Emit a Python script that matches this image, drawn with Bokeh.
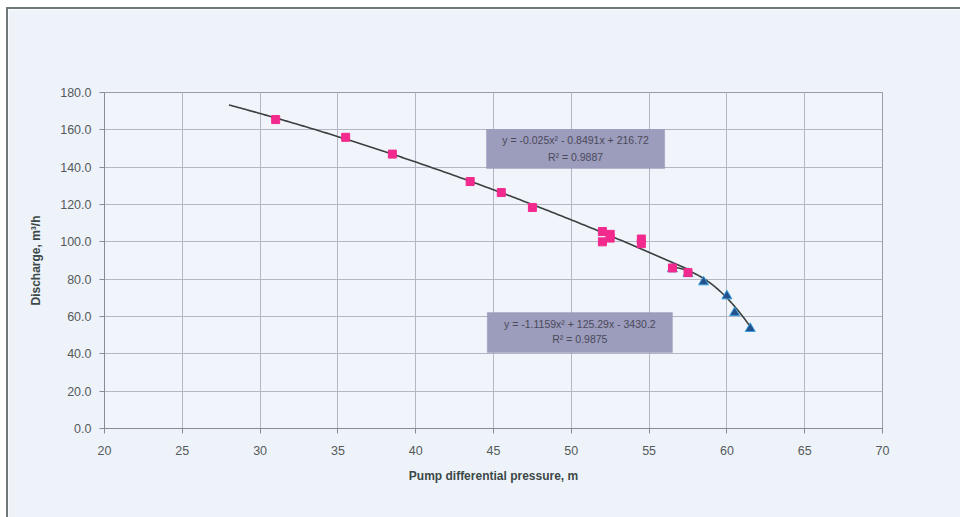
import numpy as np
from bokeh.plotting import figure
from bokeh.models import Label, BoxAnnotation, FixedTicker, NumeralTickFormatter, Range1d
from bokeh.embed import file_html
from bokeh.resources import INLINE

# Data
pink_x = [31.0, 35.5, 38.5, 43.5, 45.5, 47.5, 52.0, 52.0, 52.5, 52.5, 54.5, 54.5, 56.5, 57.5]
pink_y = [165.5, 156.0, 147.0, 132.3, 126.4, 118.4, 105.5, 100.0, 104.0, 102.0, 101.5, 99.0, 86.0, 83.5]
blue_x = [56.5, 57.5, 58.5, 60.0, 60.5, 61.5]
blue_y = [85.5, 83.0, 78.5, 71.0, 62.0, 53.5]

# Trendline coefficients shown on the chart (a*x^2 + b*x + c) and their x extents
pink_coef = [-0.025, -0.8491, 216.72]
pink_span = [28.0, 57.5]
blue_coef = [-1.1159, 125.29, -3430.2]
blue_span = [56.5, 61.5]

x_ticks = [20, 25, 30, 35, 40, 45, 50, 55, 60, 65, 70]
y_ticks = [0, 20, 40, 60, 80, 100, 120, 140, 160, 180]

BG = "#eef3fa"
p = figure(width=954, height=510, output_backend="svg", toolbar_location=None,
           x_range=Range1d(20, 70), y_range=Range1d(0, 180),
           min_border_left=96, min_border_right=80, min_border_top=83, min_border_bottom=91)
p.margin = (7, 0, 0, 6)
p.styles = {"border-top": "2px solid #6f7878", "border-left": "2px solid #6f7878",
            "box-sizing": "border-box"}
p.background_fill_color = "#f1f5fb"
p.border_fill_color = BG
p.outline_line_color = "#9a9aa8"
p.outline_line_width = 1

for ax in (p.xaxis, p.yaxis):
    ax.axis_line_color = "#8a8a96"
    ax.major_tick_line_color = "#8a8a96"
    ax.minor_tick_line_color = None
    ax.major_label_text_font = "Liberation Sans"
    ax.major_label_text_font_size = "12.5px"
    ax.major_label_text_color = "#555a5a"
    ax.axis_label_text_font = "Liberation Sans"
    ax.axis_label_text_font_style = "bold"
    ax.axis_label_text_font_size = "12px"
    ax.axis_label_text_color = "#3c4848"
    ax.major_tick_in = 0
    ax.major_tick_out = 5

p.xaxis.ticker = FixedTicker(ticks=x_ticks)
p.yaxis.ticker = FixedTicker(ticks=y_ticks)
p.yaxis.formatter = NumeralTickFormatter(format="0.0")
p.xaxis.axis_label = "Pump differential pressure, m"
p.yaxis.axis_label = "Discharge, m³/h"
p.xaxis.major_label_standoff = 12
p.xaxis.axis_label_standoff = 11
p.yaxis.major_label_standoff = 8
p.yaxis.axis_label_standoff = 14

p.xgrid.ticker = FixedTicker(ticks=x_ticks)
p.ygrid.ticker = FixedTicker(ticks=y_ticks)
p.grid.grid_line_color = "#b4b6c4"
p.grid.grid_line_width = 1

# Trendlines from the displayed coefficients
px = np.linspace(pink_span[0], pink_span[1], 200)
bx = np.linspace(blue_span[0], blue_span[1], 100)
p.line(px, np.polyval(pink_coef, px), line_color="#3a403f", line_width=1.6)
p.line(bx, np.polyval(blue_coef, bx), line_color="#3a403f", line_width=1.6)

p.scatter(blue_x, blue_y, marker="triangle", size=10, fill_color="#26508a", line_color="#36a0de", line_width=1)
p.scatter(pink_x, pink_y, marker="square", size=8, fill_color="#f22a8e", line_color="#f22a8e")

# Equation boxes
box_fill = "#9c9cbc"
for (l, r, b, t) in [(44.55, 56.0, 139.3, 160.2), (44.6, 56.5, 40.7, 62.1)]:
    p.add_layout(BoxAnnotation(left=l, right=r, bottom=b, top=t, fill_color=box_fill, fill_alpha=1,
                               line_color="#8888a8", line_width=1, level="annotation"))

labels = [
    (50.27, 154.3, "y = -0.025x² - 0.8491x + 216.72"),
    (50.27, 145.7, "R² = 0.9887"),
    (50.55, 56.2, "y = -1.1159x² + 125.29x - 3430.2"),
    (50.55, 47.7, "R² = 0.9875"),
]
for (x, y, t) in labels:
    p.add_layout(Label(x=x, y=y, text=t, text_align="center", text_baseline="middle",
                       text_font="Liberation Sans", text_font_size="10.5px", text_color="#4a4a5a"))

open("out.html", "w").write(file_html(p, INLINE))
